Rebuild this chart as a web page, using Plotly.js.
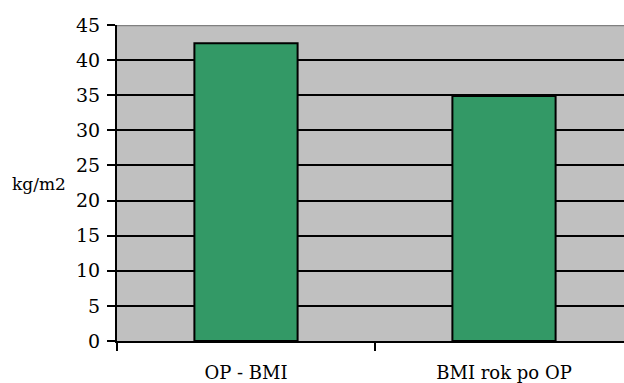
<!DOCTYPE html>
<html>
<head>
<meta charset="utf-8">
<script src="https://cdn.plot.ly/plotly-3.0.1.min.js"></script>
<style>
  html, body { margin: 0; padding: 0; overflow: hidden; background: #fff; }
  #chart { width: 634px; height: 383px; }
</style>
</head>
<body>
<div id="chart"></div>
<script>
// BMI before surgery and one year after
const categories = ['OP - BMI', 'BMI rok po OP'];
const bmiValues = [42.4, 34.9];
const yTickValues = [0, 5, 10, 15, 20, 25, 30, 35, 40, 45];
const yUnitLabel = 'kg/m2';

const serif = 'DejaVu Serif';

const trace = {
  type: 'bar',
  x: categories,
  y: bmiValues,
  marker: { color: '#339966', line: { color: '#000000', width: 2 } },
  hoverinfo: 'none'
};

const layout = {
  width: 634,
  height: 383,
  margin: { l: 116.5, r: 1, t: 25, b: 41.5 },
  paper_bgcolor: '#ffffff',
  plot_bgcolor: '#c0c0c0',
  bargap: 0.6,
  showlegend: false,
  font: { family: serif, color: '#000000' },
  xaxis: {
    type: 'category',
    showline: true,
    linecolor: '#000000',
    linewidth: 2,
    ticks: 'outside',
    tickson: 'boundaries',
    ticklen: 8,
    tickwidth: 2,
    tickcolor: '#000000',
    showgrid: false,
    zeroline: false,
    tickfont: { family: serif, size: 18, color: '#000000' },
    ticklabelstandoff: 14
  },
  yaxis: {
    range: [0, 45],
    tickvals: yTickValues,
    ticktext: yTickValues.map(String),
    showline: true,
    linecolor: '#000000',
    linewidth: 2,
    ticks: 'outside',
    ticklen: 8,
    tickwidth: 2,
    tickcolor: '#000000',
    showgrid: true,
    gridcolor: '#000000',
    gridwidth: 2,
    zeroline: false,
    tickfont: { family: serif, size: 19, color: '#000000' },
    ticklabelstandoff: 3
  },
  shapes: [{
    type: 'line', xref: 'paper', yref: 'y',
    x0: 0, x1: 1, y0: 45, y1: 45,
    line: { color: '#808080', width: 2.5 }
  }],
  annotations: [{
    text: yUnitLabel,
    xref: 'paper', yref: 'paper',
    x: -0.0958, y: 0.498,
    xanchor: 'right', yanchor: 'middle',
    showarrow: false,
    font: { family: serif, size: 17, color: '#000000' }
  }]
};

Plotly.newPlot('chart', [trace], layout, { staticPlot: true, displayModeBar: false });
</script>
</body>
</html>
